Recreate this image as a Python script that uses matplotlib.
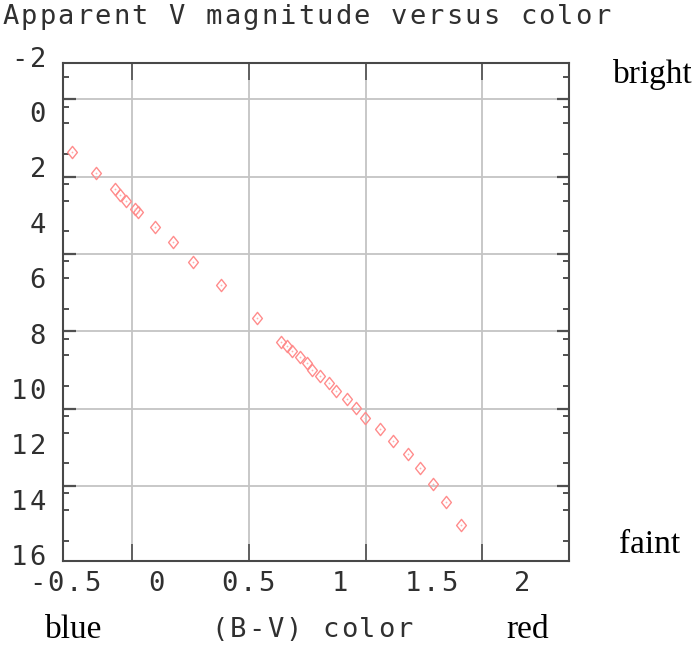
import matplotlib
matplotlib.use("Agg")
import matplotlib.pyplot as plt
from matplotlib.path import Path

# B-V colour and apparent V magnitude of each star
bv = [-0.45, -0.32, -0.22, -0.19, -0.16, -0.11, -0.09, 0.00, 0.10, 0.21,
      0.36, 0.56, 0.69, 0.72, 0.75, 0.79, 0.83, 0.86, 0.90, 0.95,
      0.99, 1.05, 1.10, 1.15, 1.23, 1.30, 1.38, 1.45, 1.52, 1.59, 1.67]
vmag = [1.22, 1.97, 2.57, 2.78, 3.00, 3.29, 3.41, 3.93, 4.48, 5.19,
        6.04, 7.21, 8.08, 8.22, 8.42, 8.64, 8.84, 9.10, 9.32, 9.56,
        9.85, 10.16, 10.49, 10.85, 11.24, 11.67, 12.13, 12.63, 13.23, 13.88, 14.71]

x_labels = [-0.5, 0, 0.5, 1, 1.5, 2]
y_labels = [-2, 0, 2, 4, 6, 8, 10, 12, 14, 16]

# grid lines of the original do not sit on the labelled values
x_grid = [-0.123, 0.514, 1.151, 1.787]
y_grid = [-0.678, 2.115, 4.908, 7.700, 10.493, 13.285]
y_minor_steps = [0.264, 0.867, 1.976]

W, H = 696, 645
fig = plt.figure(figsize=(W / 100, H / 100), dpi=100)
ax = fig.add_axes([63.3 / W, 1 - 561 / H, 505.4 / W, 498.3 / H])

diamond = Path([(0, 1), (0.8, 0), (0, -1), (-0.8, 0), (0, 1)],
               [Path.MOVETO, Path.LINETO, Path.LINETO, Path.LINETO, Path.CLOSEPOLY])
ax.plot(bv, vmag, ls="none", marker=diamond, ms=8.8, mfc="none",
        mec="#ff8c8c", mew=1.0)
ax.plot(bv, vmag, ls="none", marker="o", ms=1.3, mfc="#ffb0b0", mec="none")

ax.set_xlim(-0.5, 2.26)
ax.set_ylim(16, -2)

ax.set_xticks(x_grid)
ax.set_yticks(y_grid)
minors = [g + s for g in [y_grid[0] - 2.7927] + y_grid for s in y_minor_steps]
ax.set_yticks([m for m in minors if -2 < m < 16 and m not in y_grid], minor=True)
ax.grid(True, which="major", color="#c4c4c4", lw=1.3)
ax.set_axisbelow(True)
ax.tick_params(axis="x", which="major", direction="in", length=12, width=1.4,
               color="#606060", top=True, bottom=True,
               labelbottom=False, labeltop=False)
ax.tick_params(axis="y", which="major", direction="in", length=9, width=1.6,
               color="#505050", left=True, right=True,
               labelleft=False, labelright=False)
ax.tick_params(axis="y", which="minor", direction="in", length=4.5, width=1.4,
               color="#505050", left=True, right=True)
for sp in ax.spines.values():
    sp.set_color("#484848")
    sp.set_linewidth(1.5)


def mono(xp, yp, s, ha="center", adv=18.5, size=19.5):
    """ Draw monospaced text with wide fixed character spacing (pixels, y from top) """
    total = len(s) * adv
    x0 = {"left": xp, "center": xp - total / 2, "right": xp - total}[ha]
    for i, c in enumerate(s):
        if c != " ":
            fig.text((x0 + adv * (i + 0.5)) / W, 1 - yp / H, c, ha="center",
                     va="center", family="DejaVu Sans Mono", size=size,
                     color="#303030")


def data_px(x, y):
    px, py = ax.transData.transform((x, y))
    return px, H - py


for v in x_labels:
    px, _ = data_px(v, 0)
    mono(px + 1.5, 584, "%g" % v if v != 0 else "0")
for v in y_labels:
    _, py = data_px(-0.5, v)
    mono(47, py - 3, "%d" % v, ha="right")

mono(1, 17, "Apparent V magnitude versus color", ha="left")
mono(312, 630, "(B-V) color")

serif = dict(family="Liberation Serif", size=24, color="black", ha="center", va="center")
fig.text(653 / W, 1 - 75 / H, "bright", **serif)
fig.text(650 / W, 1 - 545 / H, "faint", **serif)
fig.text(74 / W, 1 - 630 / H, "blue", **serif)
fig.text(528 / W, 1 - 630 / H, "red", **serif)

fig.savefig("out.png", dpi=100)
